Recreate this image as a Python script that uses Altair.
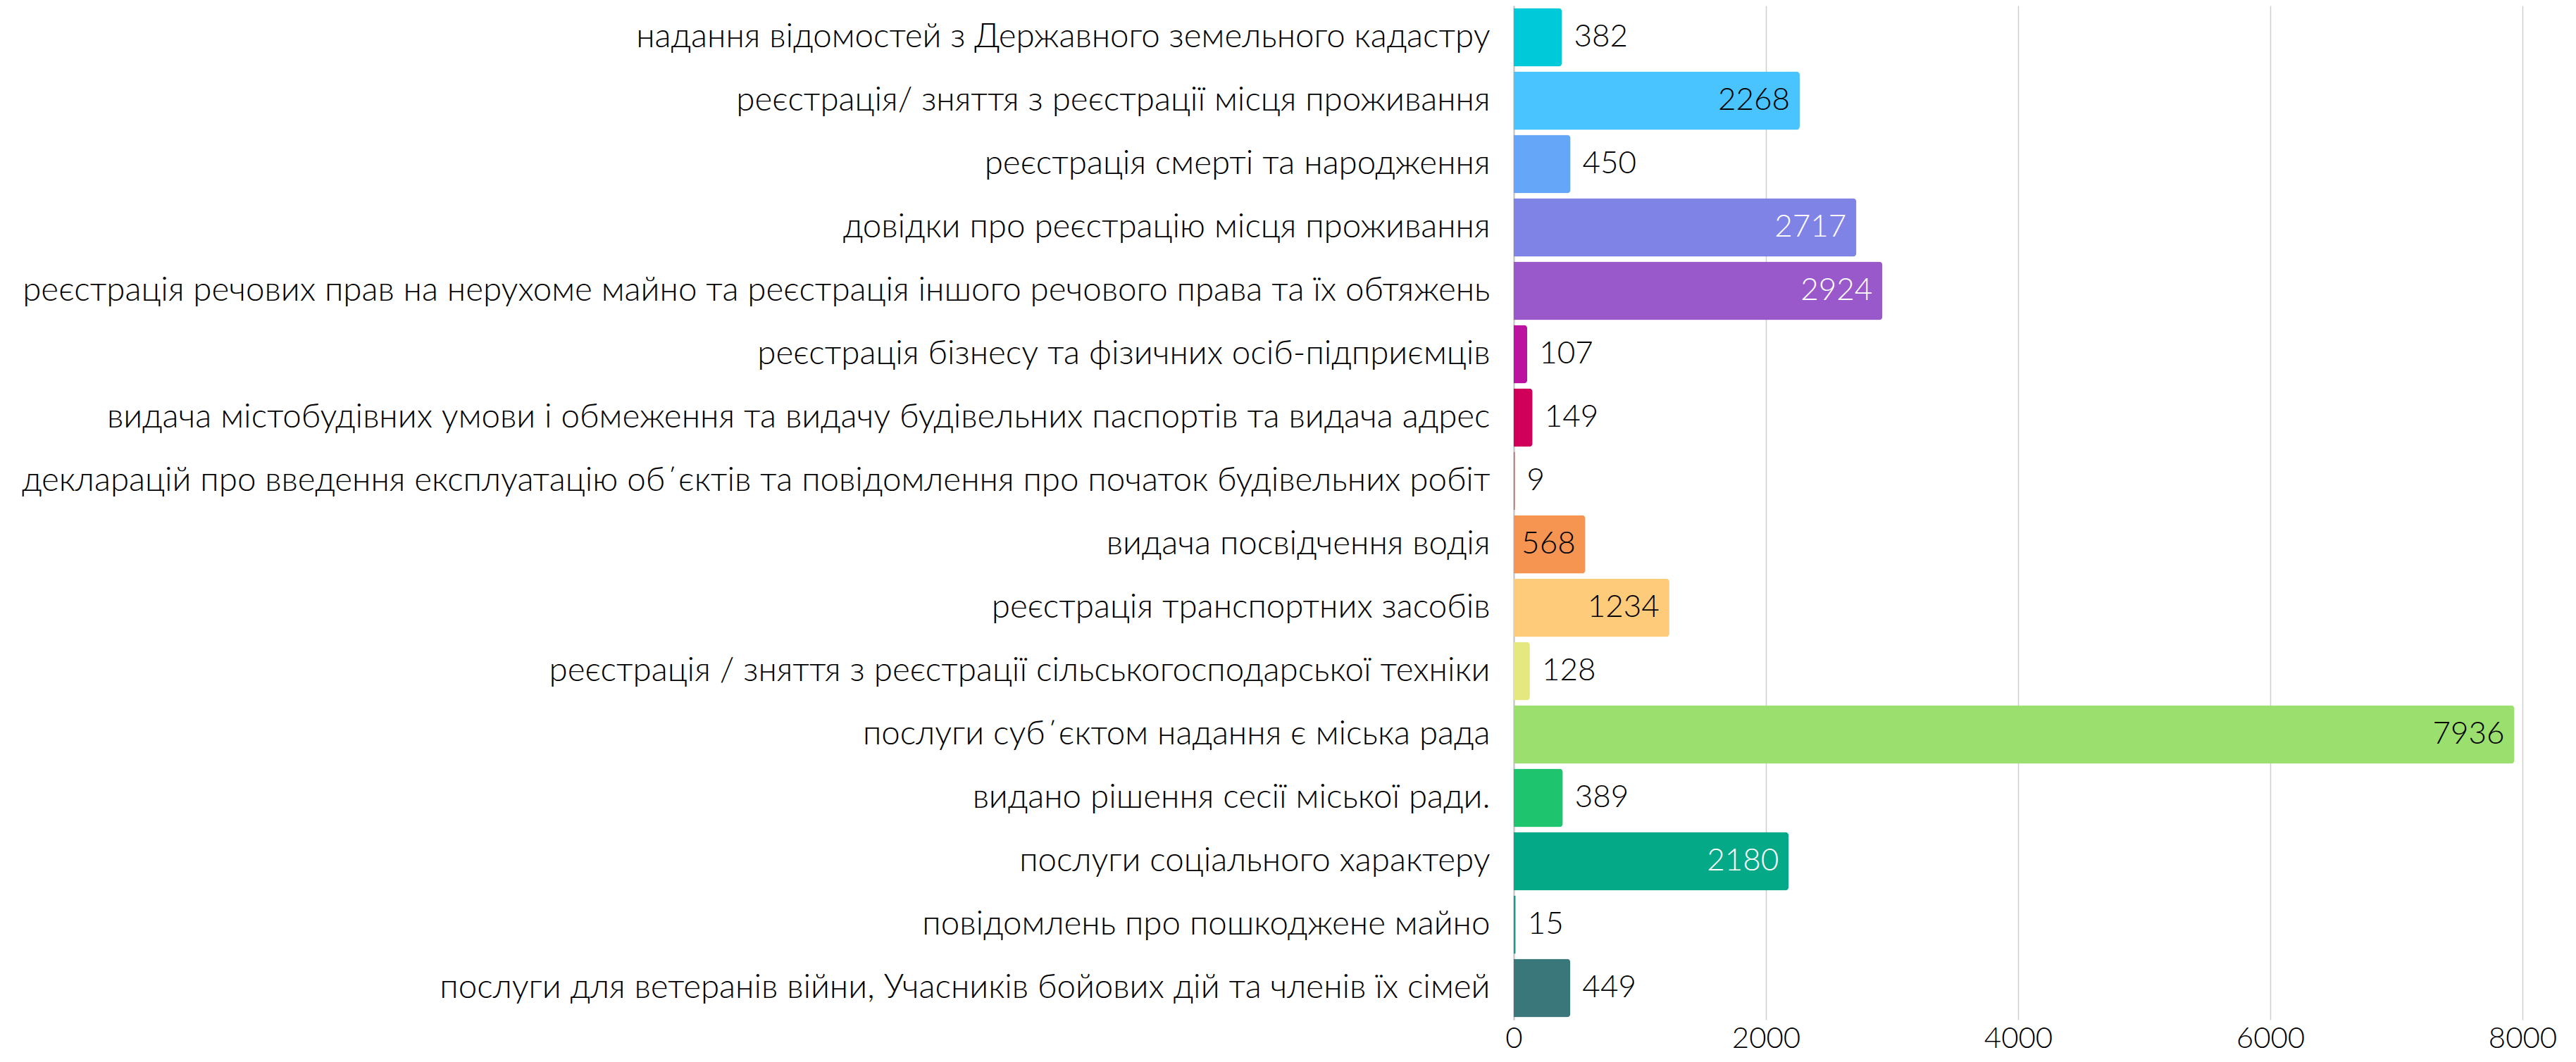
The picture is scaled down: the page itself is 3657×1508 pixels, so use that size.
import altair as alt
import pandas as pd

categories = [
    "надання відомостей з Державного земельного кадастру",
    "реєстрація/ зняття з реєстрації місця проживання",
    "реєстрація смерті та народження",
    "довідки про реєстрацію місця проживання",
    "реєстрація речових прав на нерухоме майно та реєстрація іншого речового права та їх обтяжень",
    "реєстрація бізнесу та фізичних осіб-підприємців",
    "видача містобудівних умови і обмеження та видачу будівельних паспортів та видача адрес",
    "декларацій про введення експлуатацію об΄єктів та повідомлення про початок будівельних робіт",
    "видача посвідчення водія",
    "реєстрація транспортних засобів",
    "реєстрація / зняття з реєстрації сільськогосподарської техніки",
    "послуги суб΄єктом надання є міська рада",
    "видано рішення сесії міської ради.",
    "послуги соціального характеру",
    "повідомлень про пошкоджене майно",
    "послуги для ветеранів війни, Учасників бойових дій та членів їх сімей",
]
values = [382, 2268, 450, 2717, 2924, 107, 149, 9, 568, 1234, 128, 7936, 389, 2180, 15, 449]
colors = ["#00C9DA", "#4AC4FF", "#66A6F8", "#7F83E6", "#9A59CB", "#BC12A0", "#D0005A",
          "#E8503F", "#F69452", "#FECB7B", "#E5E87E", "#9BE06E", "#1EC46E", "#04AA88",
          "#1A9A90", "#3A777B"]
text_colors = ["black", "black", "black", "white", "white", "black", "black", "black",
               "black", "black", "black", "black", "black", "white", "black", "black"]
x_ticks = [0, 2000, 4000, 6000, 8000]

df = pd.DataFrame({"cat": categories, "val": values, "col": colors, "tc": text_colors})
df["inside"] = df["val"] >= 500

FONT = "Lato"
WEIGHT = 300

y_enc = alt.Y("cat:N", sort=categories, title=None,
              scale=alt.Scale(paddingInner=0.08, paddingOuter=0.04),
              axis=alt.Axis(labelFont=FONT, labelFontSize=47.5, labelFontWeight=WEIGHT,
                            labelColor="#000000",
                            labelPadding=34, labelLimit=2200, ticks=False,
                            domain=True, domainColor="#c4c4c4", domainWidth=2,
                            minExtent=2141, maxExtent=2141, grid=False))
x_scale = alt.Scale(domain=[0, 8000], nice=False)

bars = alt.Chart(df).mark_bar(cornerRadiusEnd=5).encode(
    x=alt.X("val:Q", scale=x_scale, title=None,
            axis=alt.Axis(values=x_ticks, labelFont=FONT, labelFontSize=42,
                          labelFontWeight=WEIGHT, labelFlush=False,
                          labelColor="#000000", labelPadding=6, ticks=False,
                          domain=False, grid=True, gridColor="#cfcfcf",
                          gridWidth=1.5, format="d")),
    y=y_enc,
    color=alt.Color("col:N", scale=None),
)

outside = alt.Chart(df).transform_filter("!datum.inside").mark_text(
    align="left", baseline="middle", dx=17, font=FONT, fontSize=44,
    fontWeight=WEIGHT, color="#000000"
).encode(x=alt.X("val:Q", scale=x_scale), y=alt.Y("cat:N", sort=categories),
         text=alt.Text("val:Q", format="d"))

inside = alt.Chart(df).transform_filter("datum.inside").mark_text(
    align="right", baseline="middle", dx=-14, font=FONT, fontSize=44, fontWeight=WEIGHT
).encode(x=alt.X("val:Q", scale=x_scale), y=alt.Y("cat:N", sort=categories),
         text=alt.Text("val:Q", format="d"),
         color=alt.Color("tc:N", scale=None))

chart = alt.layer(bars, outside, inside).properties(
    width=1432, height=1440, padding=0, background="white"
).configure_view(stroke=None, strokeWidth=0)

chart.save("out.html", embed_options={"renderer": "svg", "actions": False})
